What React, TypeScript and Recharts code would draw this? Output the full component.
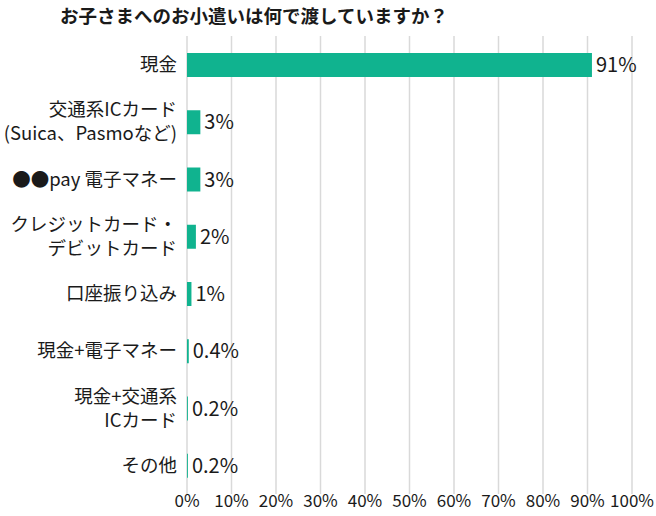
import React from "react";
import { BarChart, Bar, XAxis, YAxis, CartesianGrid, LabelList } from "recharts";

const categories = [
  "現金",
  "交通系ICカード\n(Suica、Pasmoなど)",
  "●●pay 電子マネー",
  "クレジットカード・\nデビットカード",
  "口座振り込み",
  "現金+電子マネー",
  "現金+交通系\nICカード",
  "その他",
];
const values = [91, 3, 3, 2, 1, 0.4, 0.2, 0.2];
const xTicks = [0, 10, 20, 30, 40, 50, 60, 70, 80, 90, 100];
const title = "お子さまへのお小遣いは何で渡していますか？";

const data = categories.map((c, i) => ({ name: c, value: values[i] }));

const FONT = "'Noto Sans CJK JP', 'Noto Sans', sans-serif";
const TEXT = "#1a1a1a";
const BAR = "#10b38f";

const CatTick = (props: any) => {
  const { x, y, payload } = props;
  const lines = String(payload.value).split("\n");
  const lh = 24;
  const start = -((lines.length - 1) * lh) / 2;
  return (
    <g>
      {lines.map((l, i) => (
        <text
          key={i}
          x={x}
          y={y + start + i * lh}
          dy="0.35em"
          textAnchor="end"
          fill={TEXT}
          fontSize={18.5}
          fontFamily={FONT}
        >
          {l}
        </text>
      ))}
    </g>
  );
};

export default function App() {
  return (
    <div style={{ position: "absolute", left: 0, top: 0, width: 656, height: 516, background: "#fff" }}>
      <div
        style={{
          position: "absolute",
          left: 0,
          width: 508,
          top: 2,
          textAlign: "center",
          fontFamily: FONT,
          fontWeight: 700,
          fontSize: 18.5,
          color: TEXT,
          lineHeight: "26px",
        }}
      >
        {title}
      </div>
      <BarChart
        width={656}
        height={516}
        data={data}
        layout="vertical"
        margin={{ top: 36, right: 24, bottom: 0, left: 0 }}
        barCategoryGap={0}
      >
        <CartesianGrid horizontal={false} stroke="#d9d9d9" strokeWidth={1.5} />
        <XAxis
          type="number"
          domain={[0, 100]}
          ticks={xTicks}
          tickFormatter={(v: number) => `${v}%`}
          axisLine={false}
          tickLine={false}
          tickSize={0}
          tickMargin={1}
          height={22}
          interval={0}
          tick={{ fill: TEXT, fontSize: 17, fontFamily: FONT }}
        />
        <YAxis
          type="category"
          dataKey="name"
          width={187}
          axisLine={false}
          tickLine={false}
          tickSize={0}
          tickMargin={10}
          interval={0}
          tick={<CatTick />}
        />
        <Bar dataKey="value" fill={BAR} barSize={24} isAnimationActive={false}>
          <LabelList
            dataKey="value"
            position="right"
            offset={4}
            formatter={(v: number) => `${v}%`}
            style={{ fill: TEXT, fontSize: 20, fontFamily: FONT }}
          />
        </Bar>
      </BarChart>
    </div>
  );
}
